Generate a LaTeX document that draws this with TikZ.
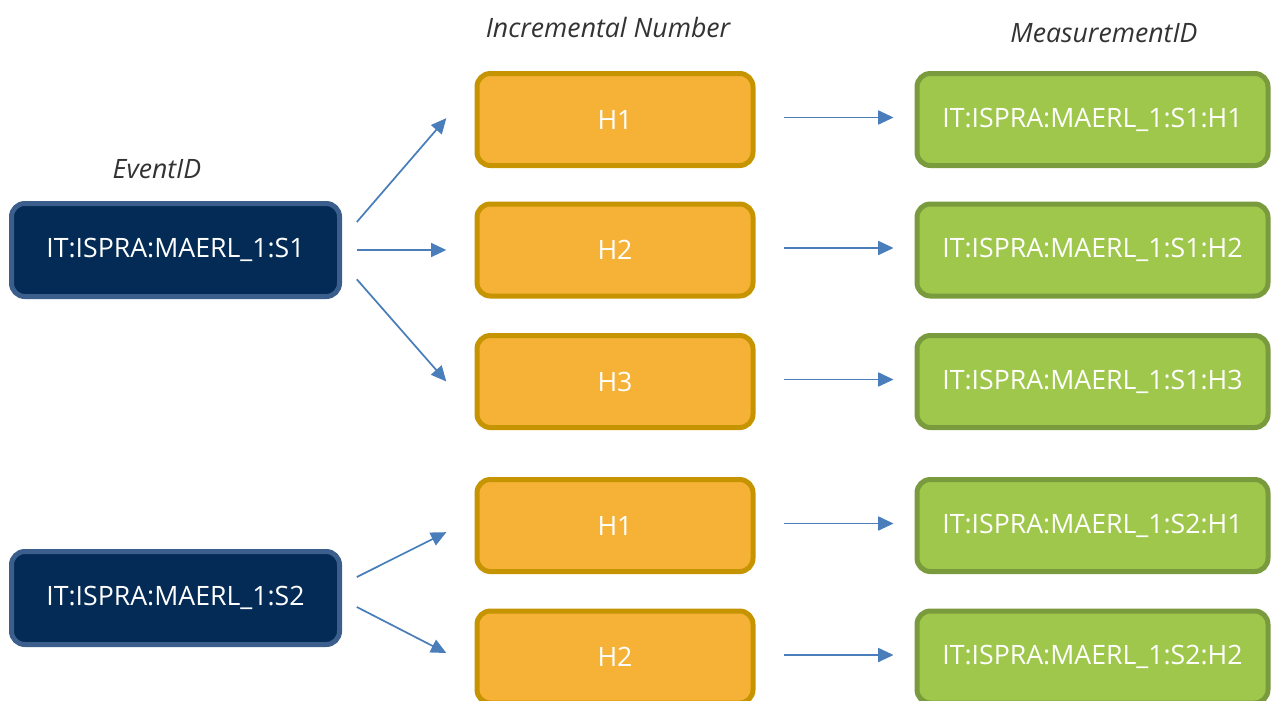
\documentclass[tikz,border=0pt]{standalone}
\usepackage{fontspec}
\setmainfont{Open Sans}
\usetikzlibrary{arrows.meta,positioning}

\definecolor{eventfill}{HTML}{032B55}
\definecolor{eventdraw}{HTML}{3B5E8C}
\definecolor{incrfill}{HTML}{F6B236}
\definecolor{incrdraw}{HTML}{C69400}
\definecolor{measfill}{HTML}{9FC74B}
\definecolor{measdraw}{HTML}{7A9A3E}
\definecolor{linkblue}{HTML}{4A7EBB}
\definecolor{headgray}{HTML}{333333}

\begin{document}
\begin{tikzpicture}[x=0.75pt,y=-0.75pt,% one unit is one pixel of the reference
        box/.style={draw, line width=3.75pt, rounded corners=10pt, outer sep=0pt,
                text=white, font=\fontsize{20}{24}\selectfont},
        event/.style={box, fill=eventfill, draw=eventdraw, minimum width=246pt, minimum height=69.75pt},
        incr/.style={box, fill=incrfill, draw=incrdraw, minimum width=207pt, minimum height=69pt},
        meas/.style={box, fill=measfill, draw=measdraw, minimum width=263.25pt, minimum height=69pt},
        link/.style={draw=linkblue, line width=1.3pt, -{Triangle[length=11.5pt,width=10.5pt]}},
        head/.style={text=headgray, font=\itshape\fontsize{20}{24}\selectfont}]
\useasboundingbox (0,0) rectangle (1271,700);

% left column
\node[event] (ev1) at (175.5,250) {IT:ISPRA:MAERL\_1:S1};
\node[event] (ev2) at (175.5,598) {IT:ISPRA:MAERL\_1:S2};

% middle and right columns
\foreach[count=\i] \y/\h/\s in {119.5/H1/S1,250/H2/S1,381.5/H3/S1,525.5/H1/S2,657/H2/S2}{ %\i is the row
\node[incr] (inc\i) at (615,\y) {\h};
\node[meas] (meas\i) at (1092.5,\y) {IT:ISPRA:MAERL\_1:\s:\h};
\draw[link] ([xshift=23pt,yshift=1.5pt]inc\i.east) -- ([xshift=-17.6pt,yshift=1.5pt]meas\i.west);
}

% column heads
\node[head] (evhead) at (157,169) {EventID};
\node[head] (inchead) at (608,27) {Incremental Number};
\node[head] (meashead) at (1104,33) {MeasurementID};

% fan out of the events
\draw[link] ([xshift=13pt,yshift=21pt]ev1.east) -- ([xshift=-23pt,yshift=1pt]inc1.west);
\draw[link] ([xshift=13pt]ev1.east) -- ([xshift=-23pt]inc2.west);
\draw[link] ([xshift=13pt,yshift=-22pt]ev1.east) -- ([xshift=-23pt]inc3.west);
\draw[link] ([xshift=13pt,yshift=15.75pt]ev2.east) -- ([xshift=-23pt,yshift=-5pt]inc4.west);
\draw[link] ([xshift=13pt,yshift=-6.75pt]ev2.east) -- ([xshift=-23pt,yshift=3pt]inc5.west);

\end{tikzpicture}
\end{document}
